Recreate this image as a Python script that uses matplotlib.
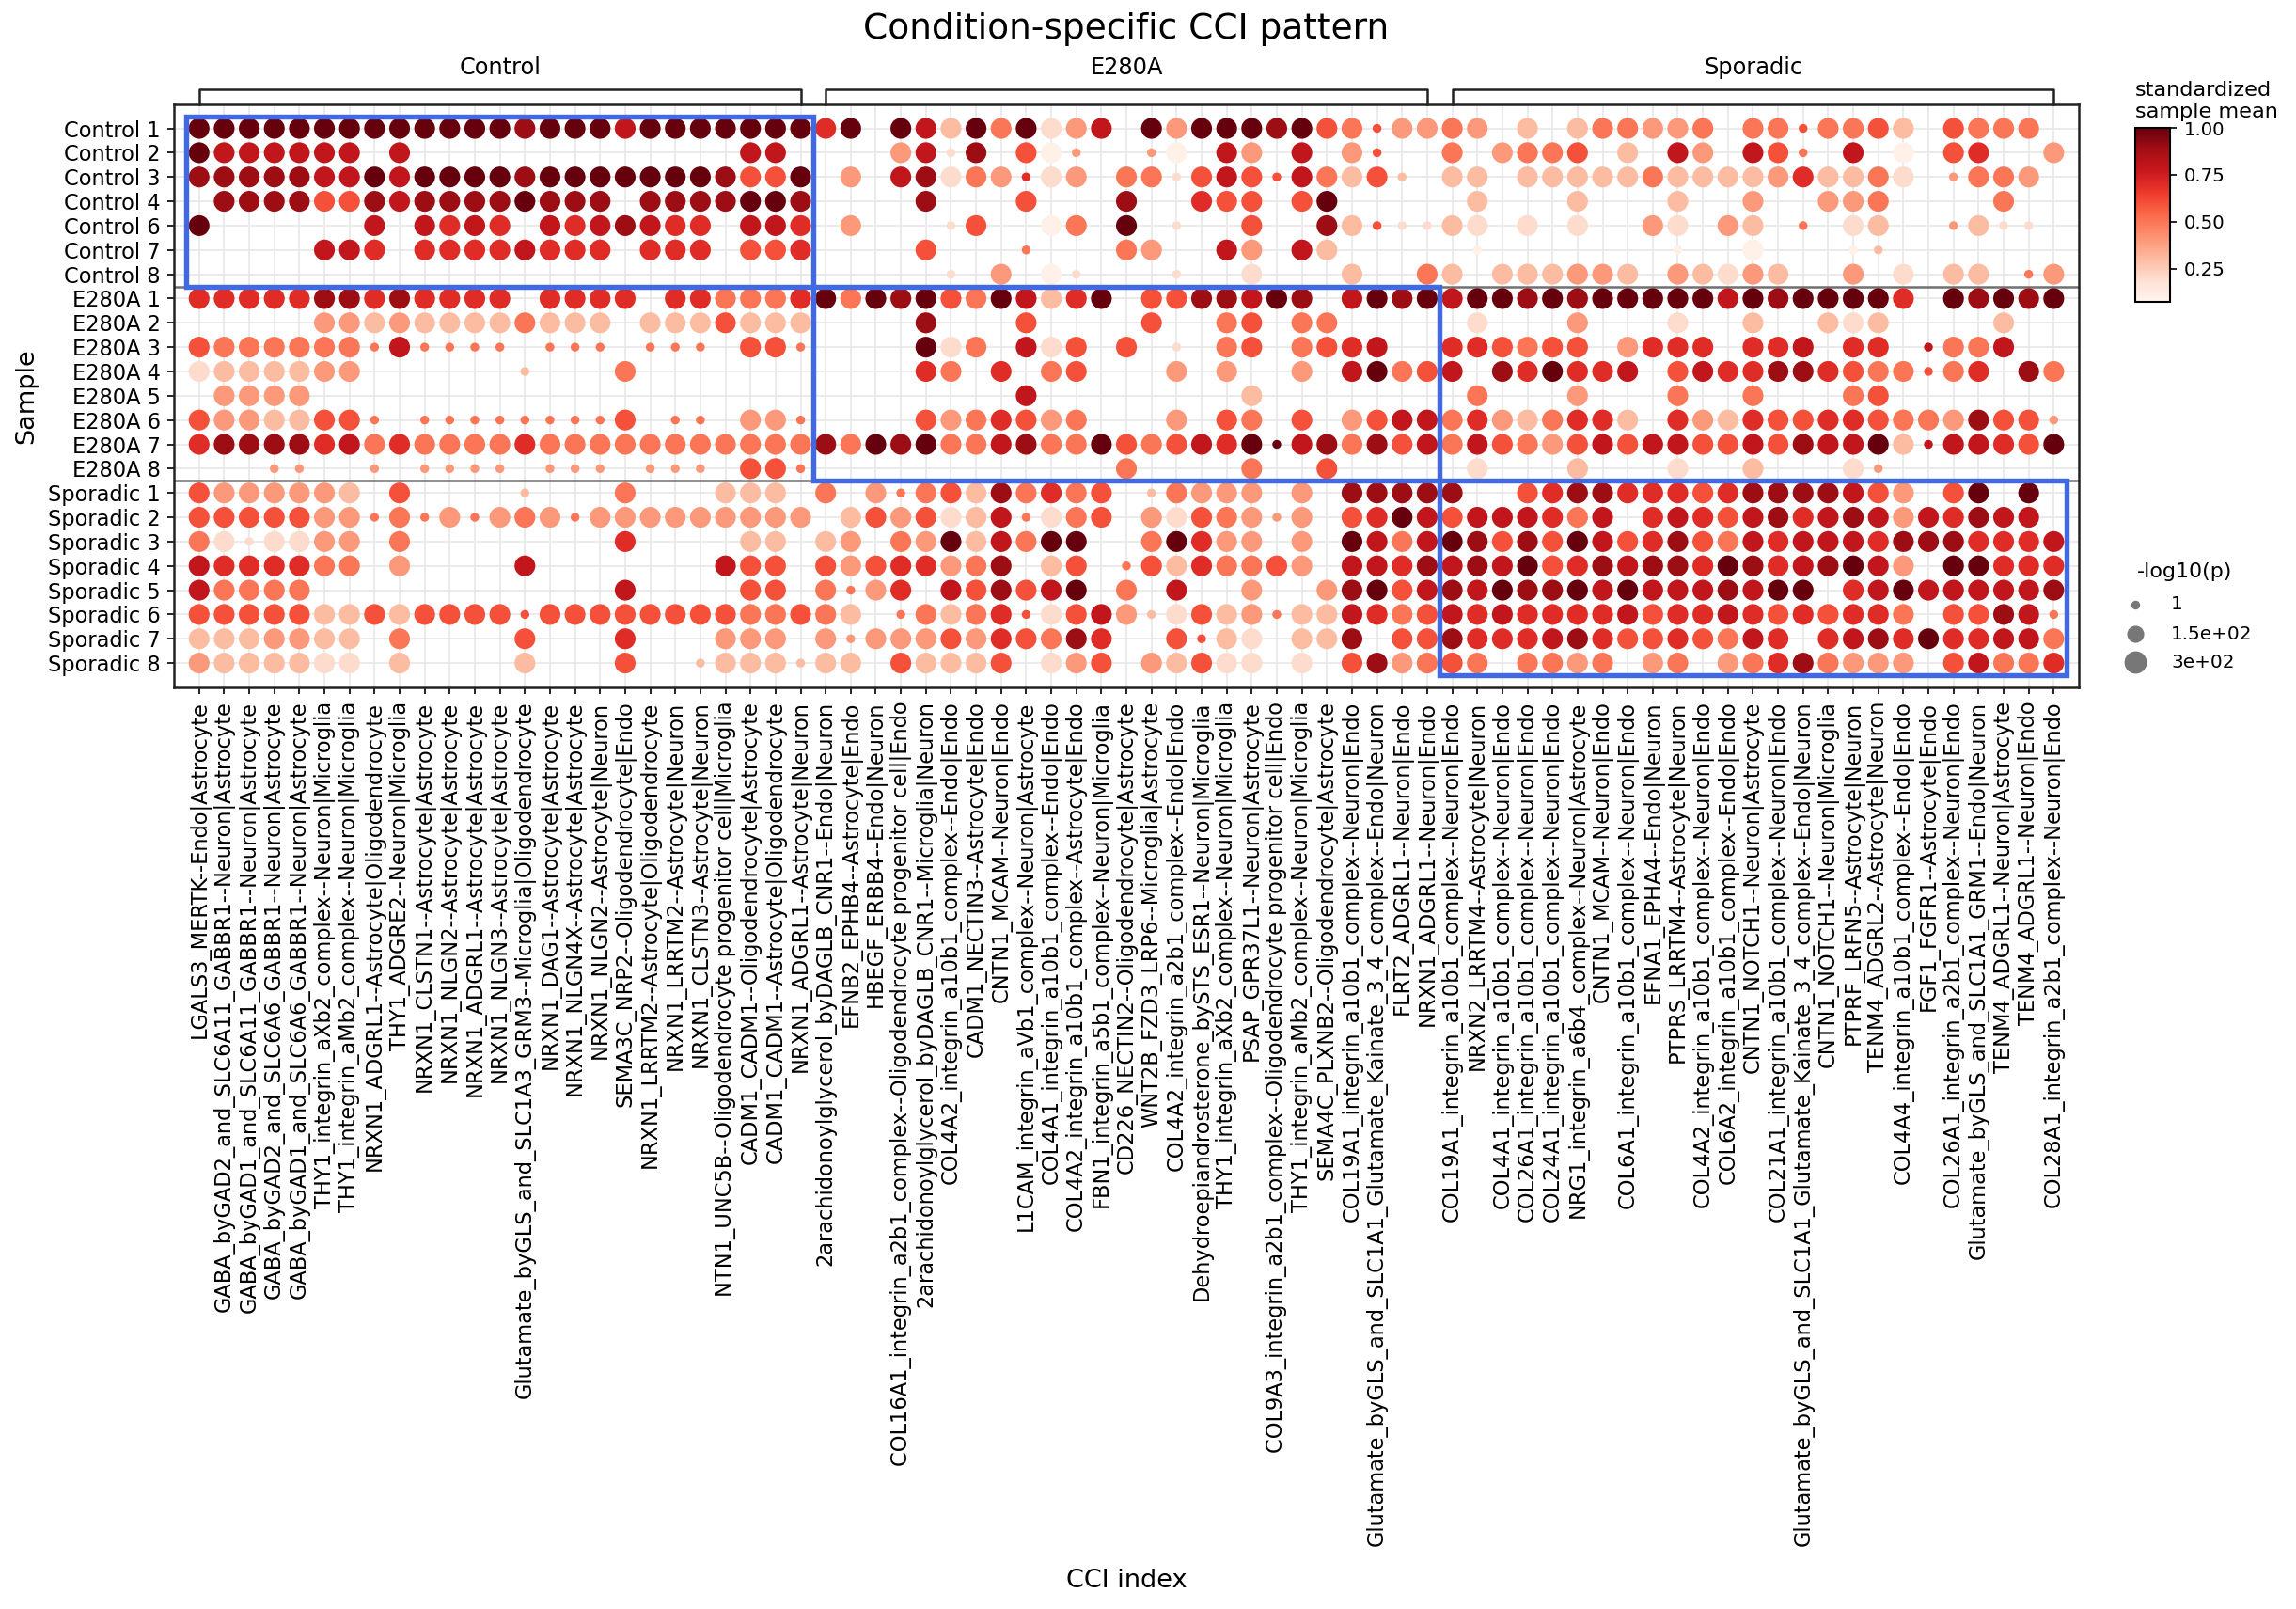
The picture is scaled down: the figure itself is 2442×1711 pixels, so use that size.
import numpy as np
import matplotlib
matplotlib.use("Agg")
import matplotlib.pyplot as plt
import matplotlib.transforms as mtransforms
from matplotlib.lines import Line2D
from matplotlib.patches import Rectangle

GROUPS = ["Control", "E280A", "Sporadic"]

SAMPLES = ["Control 1", "Control 2", "Control 3", "Control 4", "Control 6", "Control 7", "Control 8",
           "E280A 1", "E280A 2", "E280A 3", "E280A 4", "E280A 5", "E280A 6", "E280A 7", "E280A 8",
           "Sporadic 1", "Sporadic 2", "Sporadic 3", "Sporadic 4", "Sporadic 5", "Sporadic 6",
           "Sporadic 7", "Sporadic 8"]

CCI_CONTROL = [
    "LGALS3_MERTK--Endo|Astrocyte",
    "GABA_byGAD2_and_SLC6A11_GABBR1--Neuron|Astrocyte",
    "GABA_byGAD1_and_SLC6A11_GABBR1--Neuron|Astrocyte",
    "GABA_byGAD2_and_SLC6A6_GABBR1--Neuron|Astrocyte",
    "GABA_byGAD1_and_SLC6A6_GABBR1--Neuron|Astrocyte",
    "THY1_integrin_aXb2_complex--Neuron|Microglia",
    "THY1_integrin_aMb2_complex--Neuron|Microglia",
    "NRXN1_ADGRL1--Astrocyte|Oligodendrocyte",
    "THY1_ADGRE2--Neuron|Microglia",
    "NRXN1_CLSTN1--Astrocyte|Astrocyte",
    "NRXN1_NLGN2--Astrocyte|Astrocyte",
    "NRXN1_ADGRL1--Astrocyte|Astrocyte",
    "NRXN1_NLGN3--Astrocyte|Astrocyte",
    "Glutamate_byGLS_and_SLC1A3_GRM3--Microglia|Oligodendrocyte",
    "NRXN1_DAG1--Astrocyte|Astrocyte",
    "NRXN1_NLGN4X--Astrocyte|Astrocyte",
    "NRXN1_NLGN2--Astrocyte|Neuron",
    "SEMA3C_NRP2--Oligodendrocyte|Endo",
    "NRXN1_LRRTM2--Astrocyte|Oligodendrocyte",
    "NRXN1_LRRTM2--Astrocyte|Neuron",
    "NRXN1_CLSTN3--Astrocyte|Neuron",
    "NTN1_UNC5B--Oligodendrocyte progenitor cell|Microglia",
    "CADM1_CADM1--Oligodendrocyte|Astrocyte",
    "CADM1_CADM1--Astrocyte|Oligodendrocyte",
    "NRXN1_ADGRL1--Astrocyte|Neuron",
]

CCI_E280A = [
    "2arachidonoylglycerol_byDAGLB_CNR1--Endo|Neuron",
    "EFNB2_EPHB4--Astrocyte|Endo",
    "HBEGF_ERBB4--Endo|Neuron",
    "COL16A1_integrin_a2b1_complex--Oligodendrocyte progenitor cell|Endo",
    "2arachidonoylglycerol_byDAGLB_CNR1--Microglia|Neuron",
    "COL4A2_integrin_a10b1_complex--Endo|Endo",
    "CADM1_NECTIN3--Astrocyte|Endo",
    "CNTN1_MCAM--Neuron|Endo",
    "L1CAM_integrin_aVb1_complex--Neuron|Astrocyte",
    "COL4A1_integrin_a10b1_complex--Endo|Endo",
    "COL4A2_integrin_a10b1_complex--Astrocyte|Endo",
    "FBN1_integrin_a5b1_complex--Neuron|Microglia",
    "CD226_NECTIN2--Oligodendrocyte|Astrocyte",
    "WNT2B_FZD3_LRP6--Microglia|Astrocyte",
    "COL4A2_integrin_a2b1_complex--Endo|Endo",
    "Dehydroepiandrosterone_bySTS_ESR1--Neuron|Microglia",
    "THY1_integrin_aXb2_complex--Neuron|Microglia",
    "PSAP_GPR37L1--Neuron|Astrocyte",
    "COL9A3_integrin_a2b1_complex--Oligodendrocyte progenitor cell|Endo",
    "THY1_integrin_aMb2_complex--Neuron|Microglia",
    "SEMA4C_PLXNB2--Oligodendrocyte|Astrocyte",
    "COL19A1_integrin_a10b1_complex--Neuron|Endo",
    "Glutamate_byGLS_and_SLC1A1_Glutamate_Kainate_3_4_complex--Endo|Neuron",
    "FLRT2_ADGRL1--Neuron|Endo",
    "NRXN1_ADGRL1--Neuron|Endo",
]

CCI_SPORADIC = [
    "COL19A1_integrin_a10b1_complex--Neuron|Endo",
    "NRXN2_LRRTM4--Astrocyte|Neuron",
    "COL4A1_integrin_a10b1_complex--Neuron|Endo",
    "COL26A1_integrin_a10b1_complex--Neuron|Endo",
    "COL24A1_integrin_a10b1_complex--Neuron|Endo",
    "NRG1_integrin_a6b4_complex--Neuron|Astrocyte",
    "CNTN1_MCAM--Neuron|Endo",
    "COL6A1_integrin_a10b1_complex--Neuron|Endo",
    "EFNA1_EPHA4--Endo|Neuron",
    "PTPRS_LRRTM4--Astrocyte|Neuron",
    "COL4A2_integrin_a10b1_complex--Neuron|Endo",
    "COL6A2_integrin_a10b1_complex--Endo|Endo",
    "CNTN1_NOTCH1--Neuron|Astrocyte",
    "COL21A1_integrin_a10b1_complex--Neuron|Endo",
    "Glutamate_byGLS_and_SLC1A1_Glutamate_Kainate_3_4_complex--Endo|Neuron",
    "CNTN1_NOTCH1--Neuron|Microglia",
    "PTPRF_LRFN5--Astrocyte|Neuron",
    "TENM4_ADGRL2--Astrocyte|Neuron",
    "COL4A4_integrin_a10b1_complex--Endo|Endo",
    "FGF1_FGFR1--Astrocyte|Endo",
    "COL26A1_integrin_a2b1_complex--Neuron|Endo",
    "Glutamate_byGLS_and_SLC1A1_GRM1--Endo|Neuron",
    "TENM4_ADGRL1--Neuron|Astrocyte",
    "TENM4_ADGRL1--Neuron|Endo",
    "COL28A1_integrin_a2b1_complex--Neuron|Endo",
]

# one string per sample, one char per CCI (blocks of 10/10/5 per group)
# '.' no dot, '0'-'9' large dot (-log10 p ~ 250), 'a'-'j' small dot (-log10 p ~ 1)
# mean = (level + 1) / 10
CONTROL_ROWS = [
    "9999999999 9998999799 99999  69.9729491 37.9399989 54f33  43.2.24433 4.44f4452. 5444.",
    "9777777.7. .......... ..77.  ...37b8.50 d..d0.73.7 .3f..  4.3445.2.7 3.75e.7.0. 56..3",
    "8888877979 9998999999 98559  .3.78143g1 3.44b575f7 425c.  22.2222242 222362241. d443.",
    ".888855878 8889888.88 88998  ....8...5. ..8..655.5 9....  .2...2...2 ..3..334.. ..4..",
    "9......7.7 676.767876 6.776  .3...b5..0 4.9.b..5.. 82fbb  21.1.1..31 .32.e.12.. d2bb.",
    ".....776.6 6667666.66 6.556  ....5...e. ..43..73.7 2....  .a.......a ..0...ac.. .....",
    ".......... .......... .....  .....b.3.0 b...b..1.. .2..4  2.222332.3 2132..3.1. 22.e3",
]
E280A_ROWS = [
    "6666688686 666.6666.6 64446  9498954972 69.5588798 .7989  7998989999 979899996. 98989",
    ".....33232 2224222.22 25222  ....8...5. ...5..45.4 4....  .1...3...1 ..2..212.. ..2..",
    "5444444e7e eee.eee.ee e.55e  ....914.71 5.5.b.45.4 567..  665455.366 6.667.66.h 447..",
    "1222233... ...c...4.. .....  ....64.6.4 5...3.3..3 .7945  7.869667.5 766886544f 46.84",
    ".3333..... .......... .....  ........7. .......2.. .....  .4...3...4 ..4...45.. .....",
    "5332255e.e eeeeeee5.e e.33e  ....534653 4...3.54.5 .3577  46324662.6 3265566544 3855d",
    "6888867464 4446444444 44444  8498944784 49545769j7 84857  4754357577 557587792h 77659",
    "...dd..d.d ddd.ddd.dd d.55e  .......... ..4....4.. 5....  .1...2...1 ..2...1d.. .....",
]
SPORADIC_ROWS = [
    "5333332.5. ...c...4.. .222.  4.3e452846 45.c4333.3 .8888  8..5688666 568888753. 59.9.",
    "5555533e4e 3e343e3333 33333  .2535127e1 45.31543d3 .5697  5777647.67 6578678737 6877.",
    "41b1133.4. .......6.. ..22.  23.4392749 9..49633.3 .9747  9858597568 5476777688 86667",
    "7666644.3. ...7...... .755.  53566348.2 5.e5264453 .7768  7879568788 698678973. 99666",
    "74444..... .......7.. ..55.  4e36.75857 9.4.7..3.. 38957  8798897977 78799.6797 77778",
    "5555522525 555f555555 55445  42.e4246f1 573c1523e2 27645  7676666756 676565664. 5587e",
    "2223322.4. ...5...6.. .333.  3d33353654 86..5f21.2 28.55  8666786556 5476.67869 66774",
    "3222211.2. ...2...5.. c222c  22.52225.1 35.32511.1 .5834  54.4434.34 .34684333. 57446",
]

P_LARGE, P_SMALL = 250.0, 1.0
LEGEND_P = [1, 150, 300]
LEGEND_LABELS = ["1", "1.5e+02", "3e+02"]


def size_of(p):
    return 20 + 0.37 * p


def decode(rows):
    means, pvals = [], []
    for r in rows:
        r = r.replace(" ", "")
        m, p = [], []
        for ch in r:
            if ch == ".":
                m.append(np.nan); p.append(np.nan)
            elif ch.isdigit():
                m.append((int(ch) + 1) / 10); p.append(P_LARGE)
            else:
                m.append((ord(ch) - ord("a") + 1) / 10); p.append(P_SMALL)
        means.append(m); pvals.append(p)
    return means, pvals


means, pvals = [], []
for rows in (CONTROL_ROWS, E280A_ROWS, SPORADIC_ROWS):
    m, p = decode(rows)
    means += m
    pvals += p
means, pvals = np.array(means), np.array(pvals)

ccis = CCI_CONTROL + CCI_E280A + CCI_SPORADIC
n_rows, n_cols = means.shape
yy, xx = np.mgrid[0:n_rows, 0:n_cols]
ok = ~np.isnan(means)

W, H = 2442, 1711
fig = plt.figure(figsize=(W / 150, H / 150), dpi=150)
ax = fig.add_axes([0.0758, 0.5728, 0.8296, 0.3625])
ax.set_axisbelow(True)
ax.grid(True, color="#e8e8e8", lw=0.8)
sc = ax.scatter(xx[ok], yy[ok], s=size_of(pvals[ok]), c=means[ok], cmap="Reds",
                vmin=0.07, vmax=1.0, edgecolors="none", zorder=3)
ax.set_xlim(-1, n_cols)
ax.set_ylim(n_rows, -1)
ax.set_xticks(range(n_cols))
ax.set_xticklabels(ccis, rotation=90, fontsize=10.8)
ax.set_yticks(range(n_rows))
ax.set_yticklabels(SAMPLES, fontsize=10.8)
for sp in ax.spines.values():
    sp.set_color("#222222")
    sp.set_linewidth(1.2)

# group separators and diagonal boxes
n_ctrl = len(CONTROL_ROWS)
n_e280 = len(E280A_ROWS)
for yb in (n_ctrl - 0.5, n_ctrl + n_e280 - 0.5):
    ax.axhline(yb, color="#707070", lw=1.2, zorder=2)
row_starts = [0, n_ctrl, n_ctrl + n_e280, n_rows]
col_starts = [0, len(CCI_CONTROL), len(CCI_CONTROL) + len(CCI_E280A), n_cols]
for g in range(3):
    x0, x1 = col_starts[g], col_starts[g + 1]
    y0, y1 = row_starts[g], row_starts[g + 1]
    ax.add_patch(Rectangle((x0 - 0.5, y0 - 0.5), x1 - x0, y1 - y0, fill=False,
                           ec="royalblue", lw=2.6, zorder=4))

# group brackets above the axes
trans = mtransforms.blended_transform_factory(ax.transData, ax.transAxes)
for g, name in enumerate(GROUPS):
    x0, x1 = col_starts[g], col_starts[g + 1] - 1
    ax.plot([x0, x0, x1, x1], [1.0, 1.025, 1.025, 1.0], color="#222222", lw=1.2,
            transform=trans, clip_on=False)
    ax.text((x0 + x1) / 2, 1.062, name, transform=trans, ha="center", va="center",
            fontsize=11.5)

xc = 0.0758 + 0.8296 / 2
fig.text(xc, 1 - 31 / H, "Condition-specific CCI pattern", ha="center", va="center",
         fontsize=18)
fig.text(0.0115, 0.754, "Sample", rotation=90, ha="center", va="center", fontsize=13)
fig.text(xc, 1 - 1681 / H, "CCI index", ha="center", va="center", fontsize=13)

# colorbar
cax = fig.add_axes([0.930, 0.8121, 0.01515, 0.1084])
cb = fig.colorbar(sc, cax=cax, ticks=[0.25, 0.5, 0.75, 1.0])
cb.ax.set_yticklabels(["0.25", "0.50", "0.75", "1.00"], fontsize=9.5)
cb.outline.set_linewidth(1.0)
cax.text(0.0, 1.04, "standardized\nsample mean", transform=cax.transAxes, ha="left",
         va="bottom", fontsize=10.75, linespacing=1.15)

# size legend, drawn by hand in figure coordinates
fig.text(2273 / W, 1 - 608 / H, "-log10(p)", ha="left", va="center", fontsize=10.6)
for p, lab, ypx in zip(LEGEND_P, LEGEND_LABELS, [643, 674, 704]):
    fy = 1 - ypx / H
    fig.add_artist(Line2D([2271 / W], [fy], transform=fig.transFigure, ls="none",
                          marker="o", color="#777777", markeredgecolor="none",
                          markersize=np.sqrt(size_of(p))))
    fig.text(2309 / W, fy, lab, ha="left", va="center", fontsize=9.6)

fig.savefig("out.png", dpi=150)
